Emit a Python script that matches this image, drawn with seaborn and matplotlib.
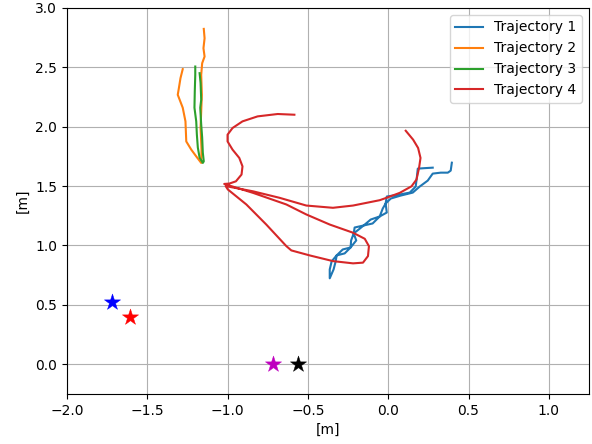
import matplotlib
matplotlib.use("Agg")
import matplotlib.pyplot as plt
import seaborn as sns
import pandas as pd

# Trajectory coordinates in metres
traj1_x = [0.277, 0.227, 0.184, 0.178, 0.171, 0.134, 0.072, -0.009, -0.016, -0.009, -0.053,
           -0.109, -0.153, -0.184, -0.215, -0.231, -0.234, -0.271, -0.321, -0.352, -0.364, -0.364,
           -0.340, -0.327, -0.321, -0.283, -0.234, -0.199, -0.215, -0.209, -0.153, -0.097,
           -0.053, -0.034, -0.016, 0.016, 0.078, 0.153, 0.196, 0.246, 0.277, 0.327, 0.371,
           0.389, 0.396]
traj1_y = [1.655, 1.651, 1.647, 1.571, 1.496, 1.445, 1.429, 1.412, 1.353, 1.277, 1.244,
           1.218, 1.168, 1.134, 1.101, 1.042, 0.983, 0.933, 0.916, 0.866, 0.798, 0.723,
           0.798, 0.866, 0.916, 0.966, 0.983, 1.042, 1.101, 1.151, 1.168, 1.185,
           1.244, 1.311, 1.353, 1.395, 1.420, 1.445, 1.496, 1.546, 1.605, 1.613, 1.613,
           1.630, 1.697]

traj2_x = [-1.279, -1.293, -1.303, -1.310, -1.279, -1.262, -1.257, -1.226, -1.195, -1.164,
           -1.162, -1.168, -1.164, -1.160, -1.164, -1.158, -1.143, -1.150, -1.143, -1.148]
traj2_y = [2.485, 2.409, 2.325, 2.269, 2.160, 2.045, 1.876, 1.807, 1.750, 1.695,
           1.807, 1.992, 2.129, 2.269, 2.437, 2.535, 2.591, 2.661, 2.745, 2.824]

traj3_x = [-1.201, -1.201, -1.204, -1.206, -1.195, -1.191, -1.185, -1.174, -1.154,
           -1.148, -1.154, -1.158, -1.164, -1.170, -1.164, -1.168, -1.174]
traj3_y = [2.507, 2.437, 2.297, 2.160, 2.045, 1.933, 1.824, 1.739, 1.695,
           1.708, 1.782, 1.908, 2.017, 2.160, 2.227, 2.370, 2.451]

traj4_x = [-0.584, -0.688, -0.813, -0.907, -0.969, -1.000, -1.000, -0.969, -0.927, -0.907,
           -0.913, -0.948, -0.989, -1.021,
           -0.842, -0.634, -0.510, -0.364, -0.219, -0.146, -0.120, -0.126, -0.157, -0.219,
           -0.344, -0.489, -0.603, -0.634, -0.759, -0.883, -0.998, -1.012,
           -0.842, -0.676, -0.510, -0.344, -0.219, -0.053, -0.011, 0.072, 0.145, 0.176,
           0.192, 0.201, 0.186, 0.155, 0.109]
traj4_y = [2.101, 2.107, 2.087, 2.045, 1.989, 1.933, 1.876, 1.807, 1.737, 1.666,
           1.597, 1.540, 1.521, 1.518,
           1.443, 1.345, 1.261, 1.176, 1.107, 1.056, 0.994, 0.910, 0.855, 0.849,
           0.868, 0.916, 0.958, 0.994, 1.176, 1.345, 1.471, 1.500,
           1.456, 1.401, 1.336, 1.317, 1.336, 1.381, 1.401, 1.443, 1.498, 1.555,
           1.653, 1.737, 1.821, 1.891, 1.966]

traj_names = ["Trajectory 1", "Trajectory 2", "Trajectory 3", "Trajectory 4"]
traj_xs = [traj1_x, traj2_x, traj3_x, traj4_x]
traj_ys = [traj1_y, traj2_y, traj3_y, traj4_y]

# Landmark positions
star_x = [-1.72, -1.61, -0.72, -0.56]
star_y = [0.52, 0.40, 0.00, 0.00]
star_colors = ["blue", "red", "m", "black"]

fig, ax = plt.subplots(figsize=(5.92, 4.44), dpi=100)
fig.subplots_adjust(left=0.113, right=0.995, top=0.982, bottom=0.113)

palette = sns.color_palette("tab10")
for i, (name, xs, ys) in enumerate(zip(traj_names, traj_xs, traj_ys)):
    df = pd.DataFrame({"x": xs, "y": ys})
    sns.lineplot(data=df, x="x", y="y", sort=False, estimator=None, ax=ax,
                 color=palette[i], linewidth=1.5, label=name)

for sx, sy, c in zip(star_x, star_y, star_colors):
    sns.scatterplot(x=[sx], y=[sy], marker="*", s=150, color=c, edgecolor=c,
                    linewidth=0.3, ax=ax, zorder=5)

ax.set_xlim(-2.0, 1.25)
ax.set_ylim(-0.25, 3.0)
ax.set_xticks([-2.0, -1.5, -1.0, -0.5, 0.0, 0.5, 1.0])
ax.set_yticks([0.0, 0.5, 1.0, 1.5, 2.0, 2.5, 3.0])
ax.grid(True)
ax.set_xlabel("[m]")
ax.set_ylabel("[m]")
ax.legend(loc="upper right")

fig.savefig("out.png", dpi=100)
